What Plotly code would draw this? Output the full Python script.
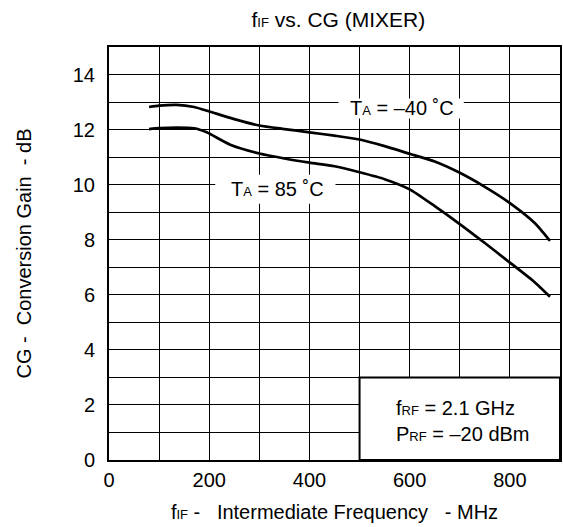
import plotly.graph_objects as go

# Data
f_if_m40 = [80, 100, 135, 170, 200, 250, 300, 350, 400, 450, 500, 550, 600, 650, 700, 750, 800, 850, 880]
cg_m40 = [12.82, 12.87, 12.9, 12.82, 12.66, 12.38, 12.15, 12.02, 11.9, 11.78, 11.64, 11.4, 11.12, 10.84, 10.43, 9.92, 9.33, 8.6, 7.96]

f_if_85 = [80, 100, 135, 170, 195, 242, 300, 350, 400, 450, 500, 550, 600, 650, 700, 750, 800, 850, 880]
cg_85 = [12.02, 12.05, 12.07, 12.05, 11.9, 11.45, 11.13, 10.95, 10.8, 10.67, 10.45, 10.2, 9.83, 9.22, 8.57, 7.88, 7.17, 6.45, 5.93]

x_ticks = [0, 200, 400, 600, 800]
y_ticks = [0, 2, 4, 6, 8, 10, 12, 14]

FONT = "Liberation Sans, Arial, sans-serif"
SUB = "<span style='font-size:13px'>{}</span>"
NB = "\u00a0"

fig = go.Figure()
for xs, ys in [(f_if_m40, cg_m40), (f_if_85, cg_85)]:
    fig.add_trace(go.Scatter(x=xs, y=ys, mode="lines",
                             line=dict(color="black", width=2.7, shape="spline", smoothing=0.6),
                             showlegend=False, hoverinfo="skip"))

# white label backgrounds and parameter box
fig.add_shape(type="rect", x0=458, x1=708, y0=12.4, y1=13.13, fillcolor="white",
              line=dict(width=0), layer="above")
fig.add_shape(type="rect", x0=212, x1=452, y0=9.31, y1=10.36, fillcolor="white",
              line=dict(width=0), layer="above")
fig.add_shape(type="rect", x0=500, x1=900, y0=0, y1=3, fillcolor="white",
              line=dict(color="black", width=2), layer="above")

fig.add_annotation(x=584, y=12.8, text="T" + SUB.format("A") + " = \u201340 \u02daC",
                   showarrow=False, font=dict(size=20, color="black", family=FONT))
fig.add_annotation(x=336, y=9.83, text="T" + SUB.format("A") + " = 85 \u02daC",
                   showarrow=False, font=dict(size=20, color="black", family=FONT))
fig.add_annotation(x=568, y=1.43, xanchor="left", yanchor="middle",
                   text="f" + SUB.format("RF") + " = 2.1 GHz<br>P" + SUB.format("RF") + " = \u201320 dBm",
                   align="left", showarrow=False,
                   font=dict(size=20, color="black", family=FONT))

fig.update_layout(
    width=563, height=527,
    margin=dict(l=109, r=3, t=47, b=67, autoexpand=False),
    paper_bgcolor="white", plot_bgcolor="white",
    font=dict(family=FONT, size=20, color="black"),
    title=dict(text="f" + SUB.format("IF") + " vs. CG (MIXER)", x=0.601, xanchor="center",
               y=0.962, yanchor="middle", font=dict(size=21, color="black", family=FONT)),
)
fig.update_xaxes(range=[0, 900], tickvals=x_ticks, ticks="", ticklabelstandoff=1,
                 showgrid=True, gridcolor="black", gridwidth=1,
                 minor=dict(dtick=100, tick0=0, showgrid=True, gridcolor="black", gridwidth=1),
                 showline=True, linecolor="black", linewidth=2, mirror=True, zeroline=False,
                 title=dict(text="f" + SUB.format("IF") + " -" + NB * 2 + " Intermediate Frequency" + NB * 2 + " - MHz",
                            standoff=15, font=dict(size=20)),
                 tickfont=dict(size=20))
fig.update_yaxes(range=[0, 15], tickvals=y_ticks, ticks="", ticklabelstandoff=8,
                 showgrid=True, gridcolor="black", gridwidth=1,
                 minor=dict(dtick=1, tick0=0, showgrid=True, gridcolor="black", gridwidth=1),
                 showline=True, linecolor="black", linewidth=2, mirror=True, zeroline=False,
                 title=dict(text="CG -" + NB + " Conversion Gain" + NB + " - dB", standoff=36, font=dict(size=20)),
                 tickfont=dict(size=20))

fig.write_html("out.html", config={"displayModeBar": False},
               post_script="document.body.style.margin='0';document.body.style.overflow='hidden';")
